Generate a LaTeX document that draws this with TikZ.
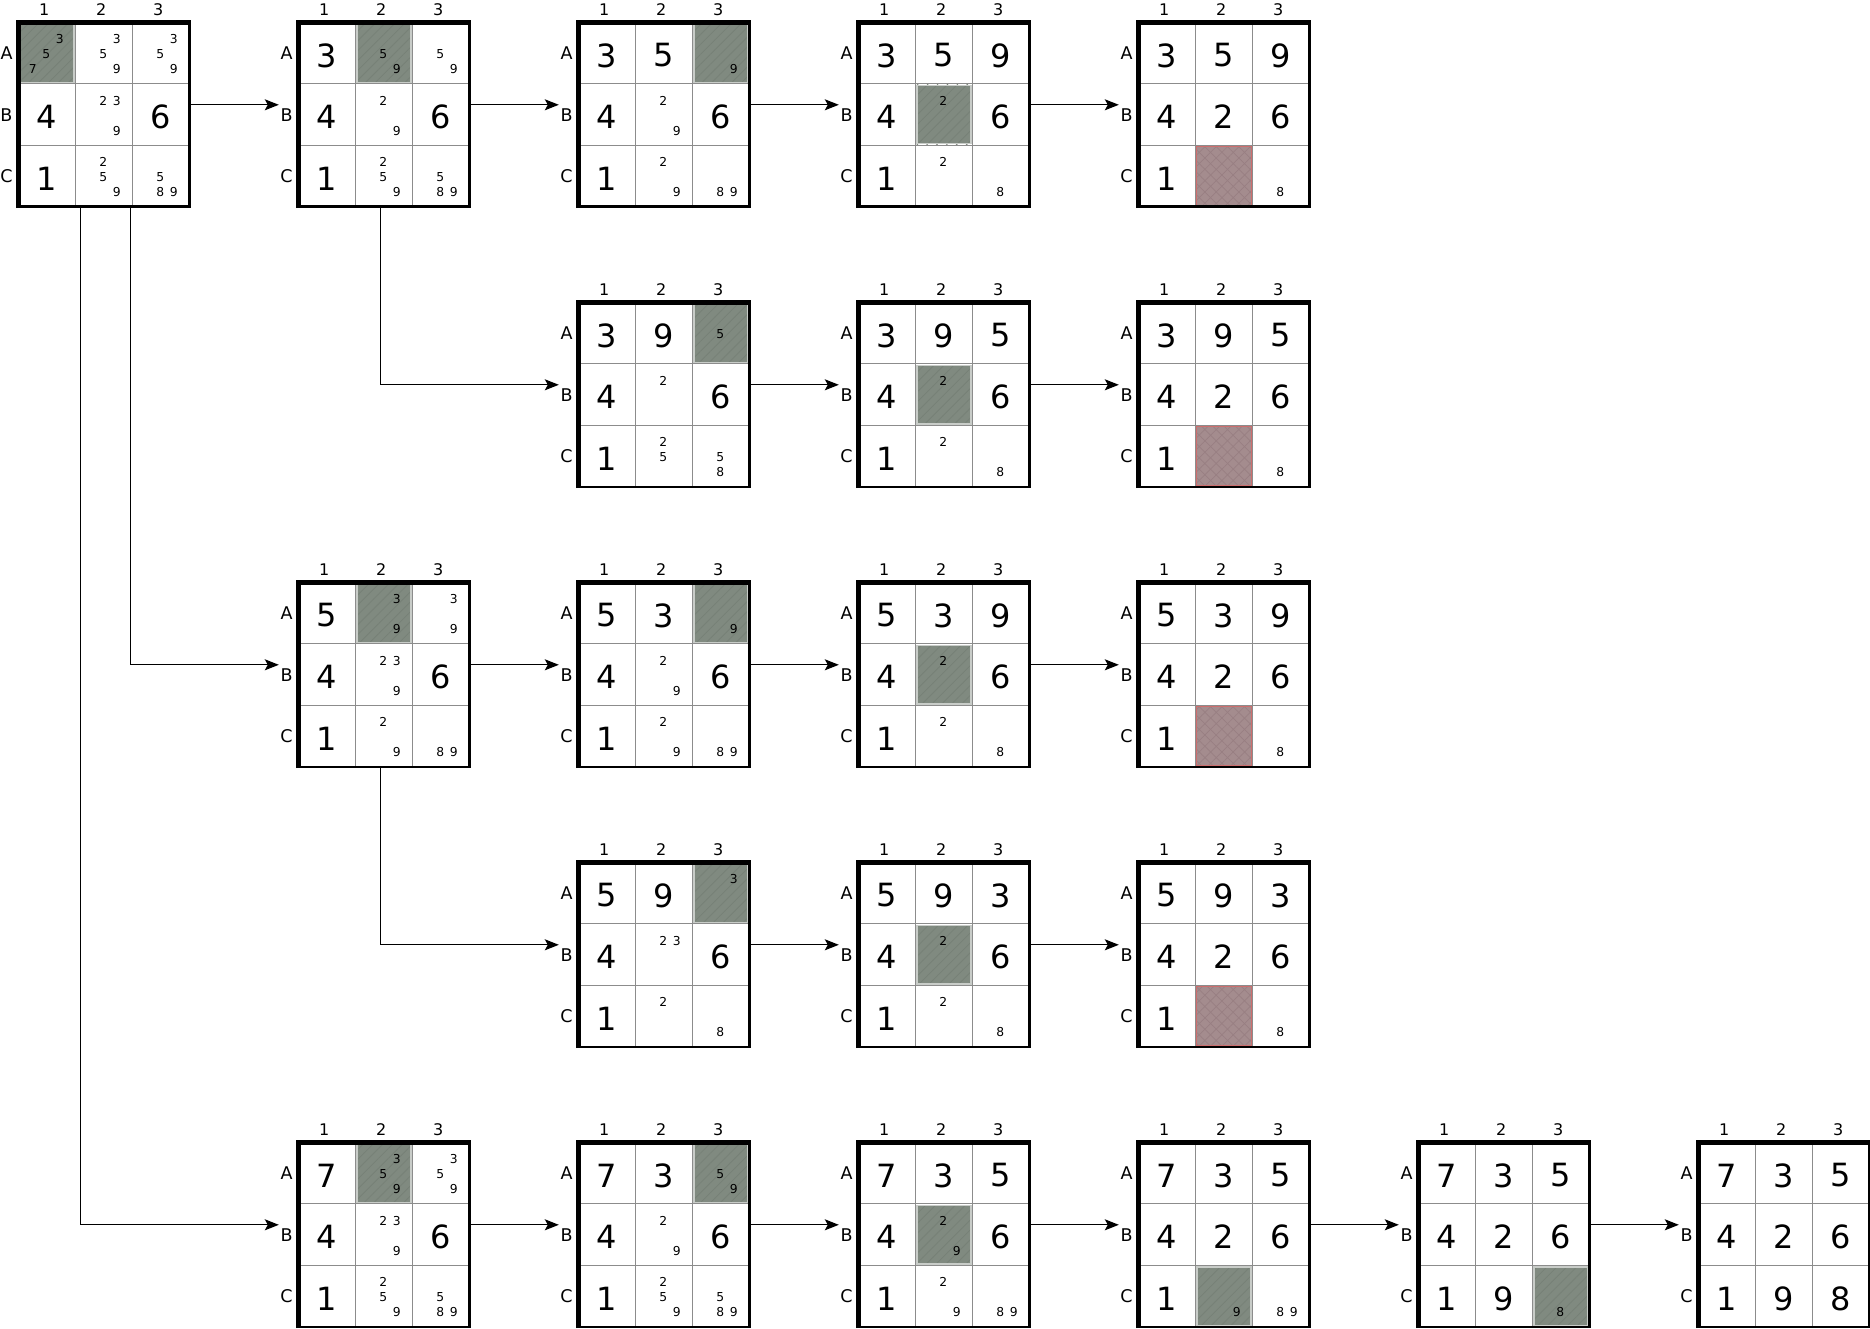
\documentclass[tikz,border=0pt]{standalone}
\usepackage{fontspec}
\setmainfont{DejaVu Sans}
\usetikzlibrary{arrows.meta,patterns.meta}

\definecolor{shadeg}{RGB}{128,138,128}
\definecolor{hatchg}{RGB}{119,129,119}
\definecolor{shadeb}{RGB}{200,204,200}
\definecolor{shader}{RGB}{164,140,142}
\definecolor{hatchr}{RGB}{152,127,130}
\definecolor{borderr}{RGB}{205,110,110}
\definecolor{gridl}{RGB}{140,140,140}

\newcommand\cwid{57}
\newcommand\chgt{61.5}

\tikzset{
  bigd/.style={font=\fontsize{32}{36}\selectfont, inner sep=0pt},
  pmark/.style={font=\fontsize{12.3}{14}\selectfont, inner sep=0pt},
  collab/.style={font=\fontsize{16}{18}\selectfont, inner sep=0pt},
  rowlab/.style={font=\fontsize{17.5}{20}\selectfont, inner sep=0pt},
  arr/.style={line width=1.2pt, -{Stealth[length=14pt,width=11pt,inset=3pt]}},
  gframe/.style={inner sep=0pt, outer sep=0pt, minimum width=171pt, minimum height=184.5pt, anchor=north west},
}

% shaded (gray, hatched) cell
\newcommand\cellS[2]{%
  \fill[shadeg] ({(#1-1)*\cwid+1.2},{(#2-1)*\chgt+1.2}) rectangle ({#1*\cwid-1.2},{#2*\chgt-1.2});
  \fill[pattern={Lines[angle=45,distance=7pt,line width=0.8pt]}, pattern color=hatchg]
     ({(#1-1)*\cwid+1.2},{(#2-1)*\chgt+1.2}) rectangle ({#1*\cwid-1.2},{#2*\chgt-1.2});
  \draw[shadeb, line width=1.4pt] ({(#1-1)*\cwid+1.5},{(#2-1)*\chgt+1.5}) rectangle ({#1*\cwid-1.5},{#2*\chgt-1.5});
}
% red (cross-hatched) cell
\newcommand\cellR[2]{%
  \fill[shader] ({(#1-1)*\cwid+1},{(#2-1)*\chgt+1}) rectangle ({#1*\cwid-1},{#2*\chgt-1});
  \fill[pattern={Lines[angle=45,distance=8pt,line width=0.7pt]}, pattern color=hatchr]
     ({(#1-1)*\cwid+1},{(#2-1)*\chgt+1}) rectangle ({#1*\cwid-1},{#2*\chgt-1});
  \fill[pattern={Lines[angle=-45,distance=8pt,line width=0.7pt]}, pattern color=hatchr]
     ({(#1-1)*\cwid+1},{(#2-1)*\chgt+1}) rectangle ({#1*\cwid-1},{#2*\chgt-1});
  \draw[borderr, line width=1.2pt] ({(#1-1)*\cwid+1},{(#2-1)*\chgt+1}) rectangle ({#1*\cwid-1},{#2*\chgt-1});
}
% big value
\newcommand\cellV[3]{%
  \node[bigd] (\gname-#1#2) at ({(#1-0.5)*\cwid},{(#2-0.5)*\chgt+2.5}) {#3};
}
% pencil marks
\newcommand\cellP[3]{%
  \foreach \d in {#3}{%
    \pgfmathtruncatemacro\pc{mod(\d-1,3)}%
    \pgfmathtruncatemacro\pr{div(\d-1,3)}%
    \node[pmark] (\gname-#1#2-\d) at ({(#1-0.5)*\cwid-13.9+13.4*\pc},{(#2-0.5)*\chgt-14+15*\pr}) {\d};
  }%
}
\newcommand\drawgridframe{%
  \draw[gridl, line width=1.1pt] (\cwid,0) -- (\cwid,184.5) (2*\cwid,0) -- (2*\cwid,184.5)
     (0,\chgt) -- (171,\chgt) (0,2*\chgt) -- (171,2*\chgt);
  \draw[line width=2.6pt] (0,0) rectangle (171,184.5);
  \draw[line width=4.5pt] (0,185.8) -- (0,0) -- (172.3,0);
  \node[gframe] (\gname) at (0,0) {};
  \node[collab] (\gname-c1) at ({0.5*\cwid-2.5},-12.8) {1};
  \node[collab] (\gname-c2) at ({1.5*\cwid-2.5},-12.8) {2};
  \node[collab] (\gname-c3) at ({2.5*\cwid-2.5},-12.8) {3};
  \node[rowlab] (\gname-rA) at (-11.8,{0.5*\chgt+0.5}) {A};
  \node[rowlab] (\gname-rB) at (-11.8,{1.5*\chgt+0.5}) {B};
  \node[rowlab] (\gname-rC) at (-11.8,{2.5*\chgt+0.5}) {C};
  \coordinate (\gname-in) at (-19.5,82.5);
  \coordinate (\gname-out) at (171,82.5);
  \coordinate (\gname-bl) at (62,184.5);
  \coordinate (\gname-bm) at (82,184.5);
  \coordinate (\gname-br) at (112,184.5);
}
\newenvironment{sgrid}[3]{%
  \def\gname{#1}%
  \pgfmathsetmacro\gx{18.3+280*#2}%
  \pgfmathsetmacro\gy{22.3+280*#3}%
  \begin{scope}[shift={(\gx,\gy)}]}%
  {\drawgridframe\end{scope}}

\begin{document}
\begin{tikzpicture}[x=1pt,y=-1pt]
\useasboundingbox (0,0) rectangle (1870,1329);
\fill[white] (0,0) rectangle (1870,1329);

% ---------- row 0
\begin{sgrid}{g00}{0}{0}
\cellS{1}{1}\cellP{1}{1}{3,5,7}\cellP{2}{1}{3,5,9}\cellP{3}{1}{3,5,9}
\cellV{1}{2}{4}\cellP{2}{2}{2,3,9}\cellV{3}{2}{6}
\cellV{1}{3}{1}\cellP{2}{3}{2,5,9}\cellP{3}{3}{5,8,9}
\end{sgrid}
\begin{sgrid}{g01}{1}{0}
\cellV{1}{1}{3}\cellS{2}{1}\cellP{2}{1}{5,9}\cellP{3}{1}{5,9}
\cellV{1}{2}{4}\cellP{2}{2}{2,9}\cellV{3}{2}{6}
\cellV{1}{3}{1}\cellP{2}{3}{2,5,9}\cellP{3}{3}{5,8,9}
\end{sgrid}
\begin{sgrid}{g02}{2}{0}
\cellV{1}{1}{3}\cellV{2}{1}{5}\cellS{3}{1}\cellP{3}{1}{9}
\cellV{1}{2}{4}\cellP{2}{2}{2,9}\cellV{3}{2}{6}
\cellV{1}{3}{1}\cellP{2}{3}{2,9}\cellP{3}{3}{8,9}
\end{sgrid}
\begin{sgrid}{g03}{3}{0}
\cellV{1}{1}{3}\cellV{2}{1}{5}\cellV{3}{1}{9}
\cellV{1}{2}{4}\cellS{2}{2}\cellP{2}{2}{2}\cellV{3}{2}{6}
\cellV{1}{3}{1}\cellP{2}{3}{2}\cellP{3}{3}{8}
\end{sgrid}
\begin{sgrid}{g04}{4}{0}
\cellV{1}{1}{3}\cellV{2}{1}{5}\cellV{3}{1}{9}
\cellV{1}{2}{4}\cellV{2}{2}{2}\cellV{3}{2}{6}
\cellV{1}{3}{1}\cellR{2}{3}\cellP{3}{3}{8}
\end{sgrid}

% ---------- row 1
\begin{sgrid}{g12}{2}{1}
\cellV{1}{1}{3}\cellV{2}{1}{9}\cellS{3}{1}\cellP{3}{1}{5}
\cellV{1}{2}{4}\cellP{2}{2}{2}\cellV{3}{2}{6}
\cellV{1}{3}{1}\cellP{2}{3}{2,5}\cellP{3}{3}{5,8}
\end{sgrid}
\begin{sgrid}{g13}{3}{1}
\cellV{1}{1}{3}\cellV{2}{1}{9}\cellV{3}{1}{5}
\cellV{1}{2}{4}\cellS{2}{2}\cellP{2}{2}{2}\cellV{3}{2}{6}
\cellV{1}{3}{1}\cellP{2}{3}{2}\cellP{3}{3}{8}
\end{sgrid}
\begin{sgrid}{g14}{4}{1}
\cellV{1}{1}{3}\cellV{2}{1}{9}\cellV{3}{1}{5}
\cellV{1}{2}{4}\cellV{2}{2}{2}\cellV{3}{2}{6}
\cellV{1}{3}{1}\cellR{2}{3}\cellP{3}{3}{8}
\end{sgrid}

% ---------- row 2
\begin{sgrid}{g21}{1}{2}
\cellV{1}{1}{5}\cellS{2}{1}\cellP{2}{1}{3,9}\cellP{3}{1}{3,9}
\cellV{1}{2}{4}\cellP{2}{2}{2,3,9}\cellV{3}{2}{6}
\cellV{1}{3}{1}\cellP{2}{3}{2,9}\cellP{3}{3}{8,9}
\end{sgrid}
\begin{sgrid}{g22}{2}{2}
\cellV{1}{1}{5}\cellV{2}{1}{3}\cellS{3}{1}\cellP{3}{1}{9}
\cellV{1}{2}{4}\cellP{2}{2}{2,9}\cellV{3}{2}{6}
\cellV{1}{3}{1}\cellP{2}{3}{2,9}\cellP{3}{3}{8,9}
\end{sgrid}
\begin{sgrid}{g23}{3}{2}
\cellV{1}{1}{5}\cellV{2}{1}{3}\cellV{3}{1}{9}
\cellV{1}{2}{4}\cellS{2}{2}\cellP{2}{2}{2}\cellV{3}{2}{6}
\cellV{1}{3}{1}\cellP{2}{3}{2}\cellP{3}{3}{8}
\end{sgrid}
\begin{sgrid}{g24}{4}{2}
\cellV{1}{1}{5}\cellV{2}{1}{3}\cellV{3}{1}{9}
\cellV{1}{2}{4}\cellV{2}{2}{2}\cellV{3}{2}{6}
\cellV{1}{3}{1}\cellR{2}{3}\cellP{3}{3}{8}
\end{sgrid}

% ---------- row 3
\begin{sgrid}{g32}{2}{3}
\cellV{1}{1}{5}\cellV{2}{1}{9}\cellS{3}{1}\cellP{3}{1}{3}
\cellV{1}{2}{4}\cellP{2}{2}{2,3}\cellV{3}{2}{6}
\cellV{1}{3}{1}\cellP{2}{3}{2}\cellP{3}{3}{8}
\end{sgrid}
\begin{sgrid}{g33}{3}{3}
\cellV{1}{1}{5}\cellV{2}{1}{9}\cellV{3}{1}{3}
\cellV{1}{2}{4}\cellS{2}{2}\cellP{2}{2}{2}\cellV{3}{2}{6}
\cellV{1}{3}{1}\cellP{2}{3}{2}\cellP{3}{3}{8}
\end{sgrid}
\begin{sgrid}{g34}{4}{3}
\cellV{1}{1}{5}\cellV{2}{1}{9}\cellV{3}{1}{3}
\cellV{1}{2}{4}\cellV{2}{2}{2}\cellV{3}{2}{6}
\cellV{1}{3}{1}\cellR{2}{3}\cellP{3}{3}{8}
\end{sgrid}

% ---------- row 4
\begin{sgrid}{g41}{1}{4}
\cellV{1}{1}{7}\cellS{2}{1}\cellP{2}{1}{3,5,9}\cellP{3}{1}{3,5,9}
\cellV{1}{2}{4}\cellP{2}{2}{2,3,9}\cellV{3}{2}{6}
\cellV{1}{3}{1}\cellP{2}{3}{2,5,9}\cellP{3}{3}{5,8,9}
\end{sgrid}
\begin{sgrid}{g42}{2}{4}
\cellV{1}{1}{7}\cellV{2}{1}{3}\cellS{3}{1}\cellP{3}{1}{5,9}
\cellV{1}{2}{4}\cellP{2}{2}{2,9}\cellV{3}{2}{6}
\cellV{1}{3}{1}\cellP{2}{3}{2,5,9}\cellP{3}{3}{5,8,9}
\end{sgrid}
\begin{sgrid}{g43}{3}{4}
\cellV{1}{1}{7}\cellV{2}{1}{3}\cellV{3}{1}{5}
\cellV{1}{2}{4}\cellS{2}{2}\cellP{2}{2}{2,9}\cellV{3}{2}{6}
\cellV{1}{3}{1}\cellP{2}{3}{2,9}\cellP{3}{3}{8,9}
\end{sgrid}
\begin{sgrid}{g44}{4}{4}
\cellV{1}{1}{7}\cellV{2}{1}{3}\cellV{3}{1}{5}
\cellV{1}{2}{4}\cellV{2}{2}{2}\cellV{3}{2}{6}
\cellV{1}{3}{1}\cellS{2}{3}\cellP{2}{3}{9}\cellP{3}{3}{8,9}
\end{sgrid}
\begin{sgrid}{g45}{5}{4}
\cellV{1}{1}{7}\cellV{2}{1}{3}\cellV{3}{1}{5}
\cellV{1}{2}{4}\cellV{2}{2}{2}\cellV{3}{2}{6}
\cellV{1}{3}{1}\cellV{2}{3}{9}\cellS{3}{3}\cellP{3}{3}{8}
\end{sgrid}
\begin{sgrid}{g46}{6}{4}
\cellV{1}{1}{7}\cellV{2}{1}{3}\cellV{3}{1}{5}
\cellV{1}{2}{4}\cellV{2}{2}{2}\cellV{3}{2}{6}
\cellV{1}{3}{1}\cellV{2}{3}{9}\cellV{3}{3}{8}
\end{sgrid}

% ---------- connectors
\draw[arr] (g00-out) -- (g01-in);
\draw[arr] (g01-out) -- (g02-in);
\draw[arr] (g02-out) -- (g03-in);
\draw[arr] (g03-out) -- (g04-in);
\draw[arr] (g01-bm) |- (g12-in);
\draw[arr] (g12-out) -- (g13-in);
\draw[arr] (g13-out) -- (g14-in);
\draw[arr] (g00-br) |- (g21-in);
\draw[arr] (g21-out) -- (g22-in);
\draw[arr] (g22-out) -- (g23-in);
\draw[arr] (g23-out) -- (g24-in);
\draw[arr] (g21-bm) |- (g32-in);
\draw[arr] (g32-out) -- (g33-in);
\draw[arr] (g33-out) -- (g34-in);
\draw[arr] (g00-bl) |- (g41-in);
\draw[arr] (g41-out) -- (g42-in);
\draw[arr] (g42-out) -- (g43-in);
\draw[arr] (g43-out) -- (g44-in);
\draw[arr] (g44-out) -- (g45-in);
\draw[arr] (g45-out) -- (g46-in);
\end{tikzpicture}
\end{document}
